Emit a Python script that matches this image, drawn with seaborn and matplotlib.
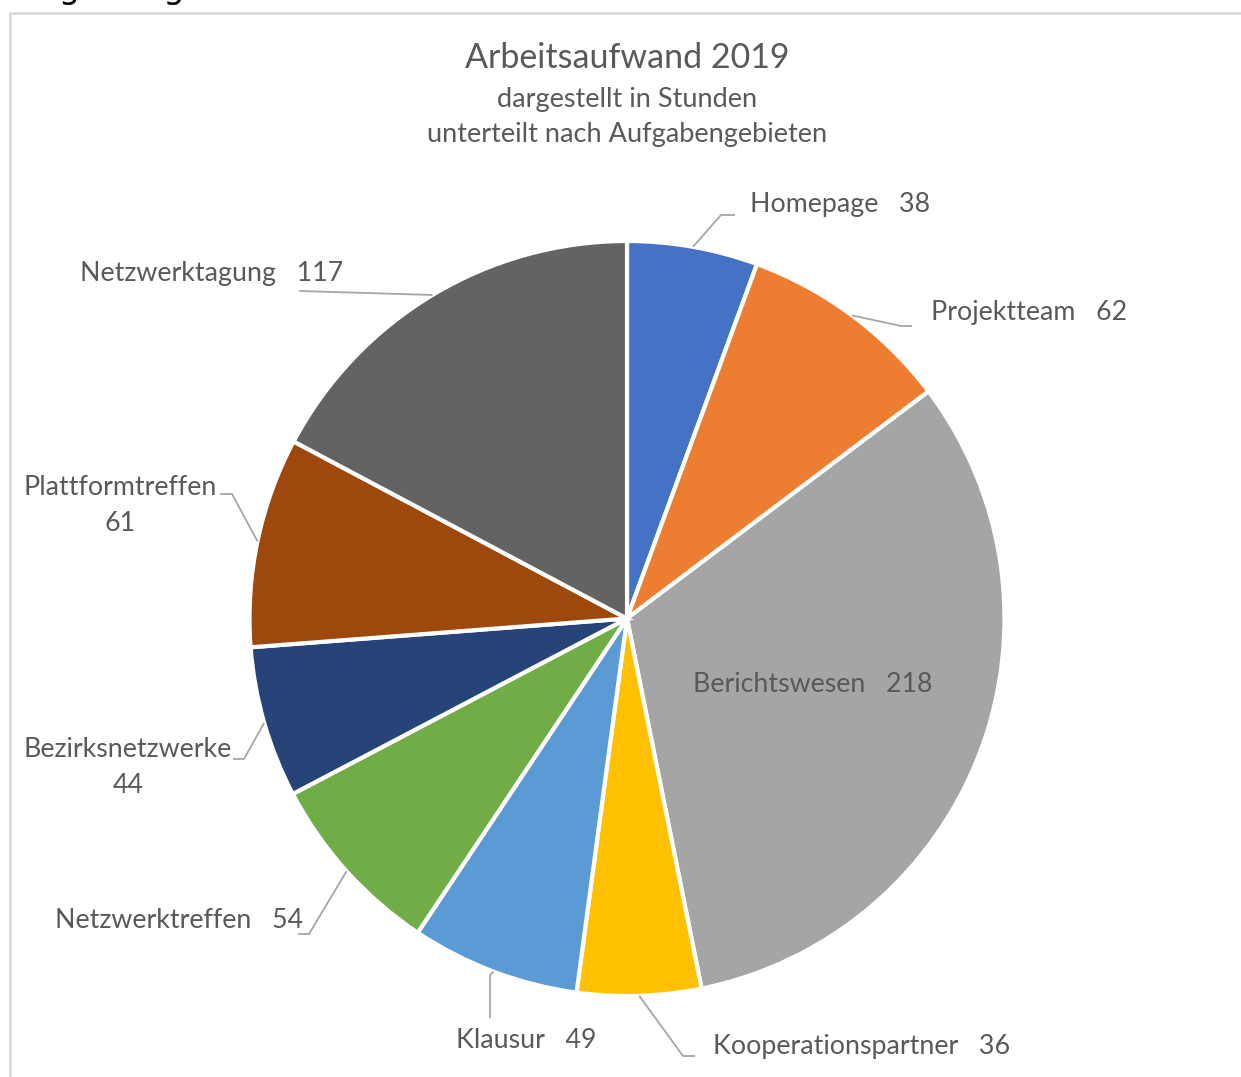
import matplotlib
matplotlib.use("Agg")
import matplotlib.pyplot as plt
import seaborn as sns
import numpy as np
from matplotlib.patches import Rectangle

# ---- data ----
categories = ["Homepage", "Projektteam", "Berichtswesen", "Kooperationspartner",
              "Klausur", "Netzwerktreffen", "Bezirksnetzwerke", "Plattformtreffen",
              "Netzwerktagung"]
hours = [38, 62, 218, 36, 49, 54, 44, 61, 117]
colors = ["#4472C4", "#ED7D31", "#A5A5A5", "#FFC000", "#5B9BD5",
          "#70AD47", "#264478", "#9E480E", "#636363"]
title = "Arbeitsaufwand 2019"
subtitles = ["dargestellt in Stunden", "unterteilt nach Aufgabengebieten"]

sns.set_theme(style="white")
plt.rcParams['font.family'] = ['Lato', 'DejaVu Sans']

W, H = 1241, 1077
fig = plt.figure(figsize=(W / 100, H / 100), dpi=100)
ax = fig.add_axes([0, 0, 1, 1])


def Y(y):
    return H - y


TXT = "#595959"
LEAD = "#A6A6A6"
LFS = 19.3
DY = 2.5  # small vertical text offset
cx, cy, r = 627, Y(618.5), 377.5

wedges, _ = ax.pie(hours, colors=colors, startangle=90, counterclock=False,
                   center=(cx, cy), radius=r, frame=True,
                   wedgeprops=dict(edgecolor="white", linewidth=3))
ax.set_xlim(0, W)
ax.set_ylim(0, H)
ax.set_aspect("equal")
ax.axis("off")

# chart border (cropped Excel chart area)
ax.add_patch(Rectangle((9.5, Y(2000)), 3000, 2000 - 12.5, fill=False,
                       edgecolor="#D9D9D9", linewidth=2, clip_on=True))

# partially visible text above the chart (cropped in the reference)
ax.text(4, Y(-2), "Aufgabengebiete", fontsize=24, color="black",
        ha="left", va="baseline", family=["DejaVu Sans"])

# titles
ax.text(627, Y(55 + DY), title, fontsize=24.5, color=TXT, ha="center", va="center")
ax.text(627, Y(97 + DY), subtitles[0], fontsize=19.5, color=TXT, ha="center", va="center")
ax.text(627, Y(132 + DY), subtitles[1], fontsize=19.5, color=TXT, ha="center", va="center")

# label layout: (lines, text x, text y of first line, ha, leader path after start)
sep = "   "
layout = {
    "Homepage": ([f"Homepage{sep}{hours[0]}"], 750, 202, "left", [(721, 215), (735, 215)]),
    "Projektteam": ([f"Projektteam{sep}{hours[1]}"], 931, 310, "left", [(901, 326), (912, 326)]),
    "Berichtswesen": ([f"Berichtswesen{sep}{hours[2]}"], 813, 682, "center", None),
    "Kooperationspartner": ([f"Kooperationspartner{sep}{hours[3]}"], 713, 1044, "left", [(683, 1056), (695, 1056)]),
    "Klausur": ([f"Klausur{sep}{hours[4]}"], 526, 1038, "center", [(490, 975), (490, 1018)]),
    "Netzwerktreffen": ([f"Netzwerktreffen{sep}{hours[5]}"], 303, 918, "right", [(309, 934), (298, 934)]),
    "Bezirksnetzwerke": (["Bezirksnetzwerke", f"{hours[6]}"], 128, 747, "center", [(244, 759), (233, 759)]),
    "Plattformtreffen": (["Plattformtreffen", f"{hours[7]}"], 120, 485, "center", [(232, 494), (220, 494)]),
    "Netzwerktagung": ([f"Netzwerktagung{sep}{hours[8]}"], 343, 271, "right", [(299, 291)]),
}

for w, cat in zip(wedges, categories):
    lines, tx, ty, ha, path = layout[cat]
    for i, line in enumerate(lines):
        ax.text(tx, Y(ty + DY + 36 * i), line, fontsize=LFS, color=TXT,
                ha=ha, va="center")
    if path is not None:
        ang = np.deg2rad((w.theta1 + w.theta2) / 2)
        sx, sy = cx + r * np.cos(ang), cy + r * np.sin(ang)
        xs = [sx] + [p[0] for p in path]
        ys = [sy] + [Y(p[1]) for p in path]
        ax.plot(xs, ys, color=LEAD, linewidth=1.3, solid_capstyle="butt")

fig.savefig("out.png", dpi=100)
